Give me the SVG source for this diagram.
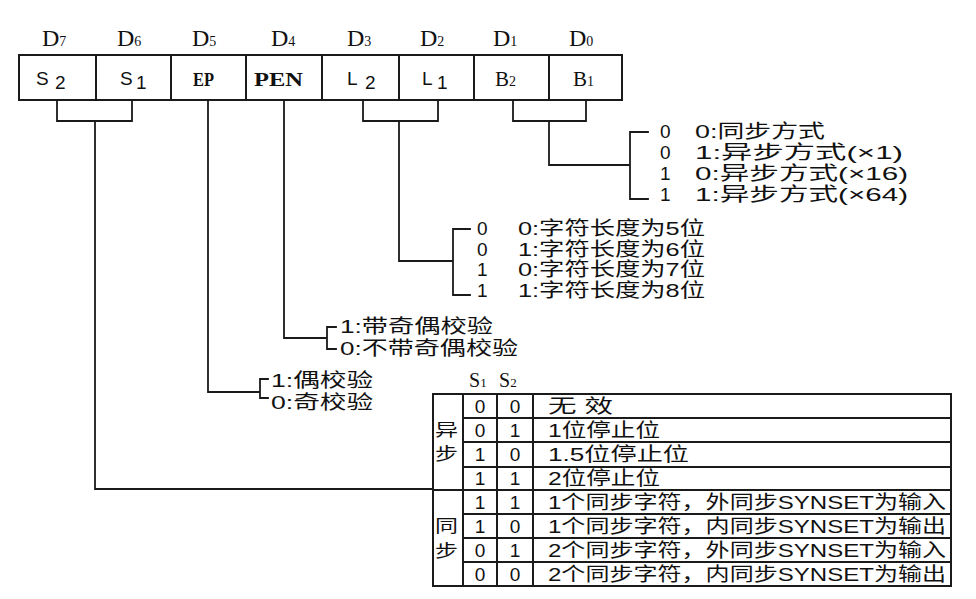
<svg xmlns="http://www.w3.org/2000/svg" width="976" height="599" viewBox="0 0 976 599">
<style>
.ln{fill:none;stroke:#1a1a1a;stroke-width:1.8;stroke-linecap:square}
.bx{fill:none;stroke:#1a1a1a;stroke-width:2}
.d{font-family:"Liberation Serif",serif;font-size:24px;fill:#111}
.ds{font-family:"Liberation Serif",serif;font-size:14px;fill:#111}
.m{font-family:"Liberation Sans",sans-serif;font-size:19px;fill:#111}
.mb{font-family:"Liberation Serif",serif;font-size:19px;font-weight:bold;fill:#111}
.t{font-family:"Liberation Sans","Noto Sans CJK SC",sans-serif;font-size:19px;fill:#111}
.c{font-family:"Noto Sans CJK SC",sans-serif;font-size:17px;fill:#111}
.mid{text-anchor:middle}
</style>
<rect width="976" height="599" fill="#fff"/>

<g id="register">
  <rect class="bx" x="19" y="55" width="603" height="45"/>
  <path class="bx" d="M96,55V100M171,55V100M246,55V100M322,55V100M399,55V100M474,55V100M549,55V100"/>
  <text class="d" x="42" y="46">D<tspan class="ds">7</tspan></text>
  <text class="d" x="117" y="46">D<tspan class="ds">6</tspan></text>
  <text class="d" x="192" y="46">D<tspan class="ds">5</tspan></text>
  <text class="d" x="271" y="46">D<tspan class="ds">4</tspan></text>
  <text class="d" x="347" y="46">D<tspan class="ds">3</tspan></text>
  <text class="d" x="420" y="46">D<tspan class="ds">2</tspan></text>
  <text class="d" x="493" y="46">D<tspan class="ds">1</tspan></text>
  <text class="d" x="569" y="46">D<tspan class="ds">0</tspan></text>
  <text class="m" x="36" y="85">S<tspan x="55" y="89">2</tspan></text>
  <text class="m" x="120" y="85">S<tspan x="136" y="89">1</tspan></text>
  <text class="mb" x="193" y="86" textLength="21" lengthAdjust="spacingAndGlyphs">EP</text>
  <text class="mb" x="254" y="86" textLength="49" lengthAdjust="spacingAndGlyphs">PEN</text>
  <text class="m" x="347" y="85">L<tspan x="365" y="89">2</tspan></text>
  <text class="m" x="422" y="85">L<tspan x="437" y="89">1</tspan></text>
  <text class="d" x="495" y="86" style="font-size:21px">B<tspan class="ds">2</tspan></text>
  <text class="d" x="573" y="86" style="font-size:21px">B<tspan class="ds">1</tspan></text>
</g>

<g id="connectors">
  <path class="ln" d="M57,100V121H132V100M95,121V489H433"/>
  <path class="ln" d="M208,100V392H260M268,379H260V398H268"/>
  <path class="ln" d="M284,100V338H327M336,327H327V349H336"/>
  <path class="ln" d="M363,100V121H438V100M399,121V261H453M470,229H453V295H470"/>
  <path class="ln" d="M513,100V121H586V100M549,121V165H630M648,132H630V199H648"/>
</g>

<g id="baud">
  <text class="t" x="660" y="138">0</text>
  <text class="t" x="695" y="138" textLength="130" lengthAdjust="spacingAndGlyphs">0:同步方式</text>
  <text class="t" x="660" y="159">0</text>
  <text class="t" x="695" y="159" textLength="208" lengthAdjust="spacingAndGlyphs">1:异步方式(×1)</text>
  <text class="t" x="660" y="180">1</text>
  <text class="t" x="695" y="180" textLength="213" lengthAdjust="spacingAndGlyphs">0:异步方式(×16)</text>
  <text class="t" x="660" y="201">1</text>
  <text class="t" x="695" y="201" textLength="213" lengthAdjust="spacingAndGlyphs">1:异步方式(×64)</text>
</g>

<g id="length">
  <text class="t" x="477" y="235">0</text>
  <text class="t" x="518" y="235" textLength="187" lengthAdjust="spacingAndGlyphs">0:字符长度为5位</text>
  <text class="t" x="477" y="256">0</text>
  <text class="t" x="518" y="256" textLength="187" lengthAdjust="spacingAndGlyphs">1:字符长度为6位</text>
  <text class="t" x="477" y="276">1</text>
  <text class="t" x="518" y="276" textLength="187" lengthAdjust="spacingAndGlyphs">0:字符长度为7位</text>
  <text class="t" x="477" y="297">1</text>
  <text class="t" x="518" y="297" textLength="187" lengthAdjust="spacingAndGlyphs">1:字符长度为8位</text>
</g>

<g id="pen">
  <text class="t" x="340" y="333" textLength="153" lengthAdjust="spacingAndGlyphs">1:带奇偶校验</text>
  <text class="t" x="340" y="355" textLength="178" lengthAdjust="spacingAndGlyphs">0:不带奇偶校验</text>
</g>

<g id="ep">
  <text class="t" x="271" y="387" textLength="102" lengthAdjust="spacingAndGlyphs">1:偶校验</text>
  <text class="t" x="271" y="409" textLength="102" lengthAdjust="spacingAndGlyphs">0:奇校验</text>
</g>

<g id="stop-table">
  <text class="d" x="469" y="387" style="font-size:20px">S<tspan class="ds" style="font-size:13px">1</tspan></text>
  <text class="d" x="499" y="387" style="font-size:20px">S<tspan class="ds" style="font-size:13px">2</tspan></text>
  <rect class="bx" x="433" y="394" width="518" height="192"/>
  <path class="bx" d="M463,394V586M497,394V586M533,394V586"/>
  <path class="bx" d="M463,418H951M463,442H951M463,467H951M433,490H951M463,514H951M463,538H951M463,562H951"/>
  <text class="c" x="435" y="436" textLength="23" lengthAdjust="spacingAndGlyphs">异</text>
  <text class="c" x="435" y="460" textLength="23" lengthAdjust="spacingAndGlyphs">步</text>
  <text class="c" x="435" y="532" textLength="23" lengthAdjust="spacingAndGlyphs">同</text>
  <text class="c" x="435" y="557" textLength="23" lengthAdjust="spacingAndGlyphs">步</text>

  <text class="t mid" x="480" y="413">0</text><text class="t mid" x="515" y="413">0</text>
  <text class="t" x="548" y="413" textLength="65" lengthAdjust="spacingAndGlyphs">无 效</text>
  <text class="t mid" x="480" y="437">0</text><text class="t mid" x="515" y="437">1</text>
  <text class="t" x="548" y="437" textLength="112" lengthAdjust="spacingAndGlyphs">1位停止位</text>
  <text class="t mid" x="480" y="461">1</text><text class="t mid" x="515" y="461">0</text>
  <text class="t" x="548" y="461" textLength="141" lengthAdjust="spacingAndGlyphs">1.5位停止位</text>
  <text class="t mid" x="480" y="485">1</text><text class="t mid" x="515" y="485">1</text>
  <text class="t" x="548" y="485" textLength="112" lengthAdjust="spacingAndGlyphs">2位停止位</text>

  <text class="t mid" x="480" y="509">1</text><text class="t mid" x="515" y="509">1</text>
  <text class="t" x="548" y="509" textLength="398" lengthAdjust="spacingAndGlyphs">1个同步字符，外同步SYNSET为输入</text>
  <text class="t mid" x="480" y="533">1</text><text class="t mid" x="515" y="533">0</text>
  <text class="t" x="548" y="533" textLength="398" lengthAdjust="spacingAndGlyphs">1个同步字符，内同步SYNSET为输出</text>
  <text class="t mid" x="480" y="557">0</text><text class="t mid" x="515" y="557">1</text>
  <text class="t" x="548" y="557" textLength="398" lengthAdjust="spacingAndGlyphs">2个同步字符，外同步SYNSET为输入</text>
  <text class="t mid" x="480" y="581">0</text><text class="t mid" x="515" y="581">0</text>
  <text class="t" x="548" y="581" textLength="398" lengthAdjust="spacingAndGlyphs">2个同步字符，内同步SYNSET为输出</text>
</g>
</svg>
